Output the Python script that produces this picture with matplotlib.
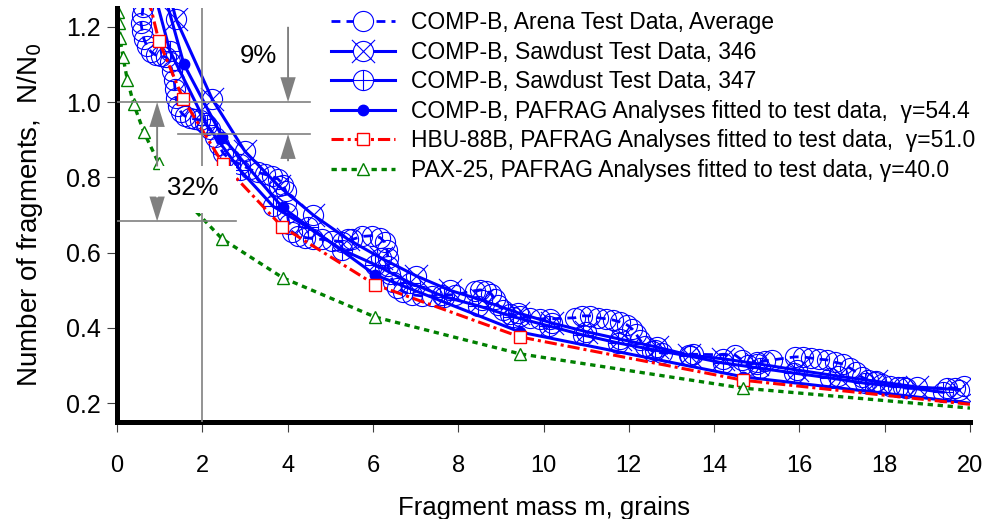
import numpy as np
import matplotlib
matplotlib.use("Agg")
import matplotlib.pyplot as plt
from matplotlib.path import Path
from matplotlib.patches import Rectangle
from matplotlib.lines import Line2D

plt.rcParams["font.family"] = ["Liberation Sans", "DejaVu Sans"]

# COMP-B arena test data (average)
arena_x = [0.61, 0.59, 0.56, 0.59, 0.63, 0.70, 0.80, 0.91, 1.03, 1.15, 1.24, 1.29,
           1.34, 1.36, 1.38, 1.43, 1.50, 1.59, 1.71, 1.83, 1.95, 2.06, 2.18, 2.30,
           2.39, 2.49, 2.65, 2.88, 3.12, 3.31, 3.47, 3.63, 3.78, 3.89, 3.96, 3.96,
           3.99, 4.03, 4.10, 4.24, 4.41, 4.60, 4.81, 5.04, 5.28, 5.51, 5.74, 5.98,
           6.17, 6.28, 6.33, 6.35, 6.35, 6.40, 6.47, 6.56, 6.71, 6.92, 7.15, 7.39,
           7.62, 7.92, 8.39, 8.51, 8.65, 8.77, 8.86, 8.93, 9.05, 9.21, 9.45, 9.68,
           9.92, 10.15, 10.74, 10.90, 11.09, 11.28, 11.47, 11.63, 11.79, 11.96, 12.08,
           12.17, 12.26, 12.38, 12.54, 12.78, 13.50, 14.49, 14.65, 14.80, 15.00,
           15.19, 15.36, 15.90, 16.08, 16.27, 16.46, 16.65, 16.83, 17.02, 17.19,
           17.33, 17.47, 17.61, 17.77, 17.94, 18.12, 18.31, 18.50, 19.46, 19.65, 19.86]
arena_y = [1.253, 1.232, 1.211, 1.189, 1.168, 1.149, 1.133, 1.125, 1.123, 1.120, 1.107, 1.083,
           1.059, 1.035, 1.011, 0.989, 0.973, 0.963, 0.957, 0.955, 0.952, 0.944, 0.928, 0.907,
           0.885, 0.864, 0.848, 0.835, 0.821, 0.813, 0.808, 0.803, 0.795, 0.781, 0.763, 0.733,
           0.704, 0.677, 0.656, 0.645, 0.640, 0.637, 0.635, 0.632, 0.629, 0.635, 0.643, 0.645,
           0.640, 0.627, 0.608, 0.587, 0.565, 0.544, 0.523, 0.507, 0.496, 0.488, 0.485, 0.485,
           0.488, 0.488, 0.499, 0.501, 0.499, 0.491, 0.477, 0.461, 0.448, 0.437, 0.432, 0.427,
           0.424, 0.424, 0.427, 0.432, 0.432, 0.427, 0.424, 0.421, 0.416, 0.408, 0.397,
           0.384, 0.368, 0.352, 0.339, 0.333, 0.330, 0.328, 0.315, 0.301, 0.309,
           0.312, 0.315, 0.323, 0.323, 0.320, 0.317, 0.315, 0.309, 0.304, 0.293,
           0.283, 0.269, 0.261, 0.256, 0.251, 0.245, 0.243, 0.240, 0.240, 0.240, 0.245]

# COMP-B sawdust test 346 (first point is above the plotted range)
saw346_x = [1.20, 1.38, 2.23, 3.00, 3.80, 4.60, 5.42, 6.20, 7.00, 7.80, 8.55, 9.40, 10.20,
            11.00, 11.80, 12.66, 13.40, 14.20, 15.00, 15.95, 16.90, 17.80, 18.75, 19.75]
saw346_y = [1.300, 1.221, 1.008, 0.869, 0.776, 0.700, 0.635, 0.585, 0.539, 0.500, 0.474, 0.440,
            0.413, 0.390, 0.370, 0.349, 0.328, 0.318, 0.305, 0.288, 0.272, 0.258, 0.243, 0.236]

# COMP-B sawdust test 347
saw347_x = [0.90, 1.24, 2.10, 2.88, 3.66, 4.48, 5.27, 6.05, 6.87, 7.67, 8.46, 9.28, 10.13,
            10.93, 11.75, 12.61, 13.43, 14.20, 15.08, 15.87, 16.72, 17.54, 18.43, 19.37]
saw347_y = [1.280, 1.136, 0.940, 0.820, 0.723, 0.667, 0.608, 0.568, 0.520, 0.483, 0.459, 0.430,
            0.405, 0.381, 0.360, 0.341, 0.325, 0.307, 0.293, 0.280, 0.267, 0.253, 0.243, 0.229]

# PAFRAG fits (model mass bins)
fit_x = [0.98, 1.57, 2.47, 3.88, 6.05, 9.45, 14.68, 20.0]
compb_fit_y = [1.340, 1.100, 0.907, 0.720, 0.541, 0.389, 0.270, 0.200]
hbu_x = [0.62, 0.98, 1.55, 2.49, 3.87, 6.05, 9.45, 14.68, 20.0]
hbu_fit_y = [1.330, 1.163, 1.008, 0.835, 0.669, 0.515, 0.376, 0.261, 0.197]
pax_x = [0.02, 0.04, 0.07, 0.14, 0.24, 0.39, 0.63, 0.98, 1.55, 2.46, 3.89, 6.05, 9.45,
         14.68, 20.0]
pax_fit_y = [1.240, 1.210, 1.170, 1.120, 1.060, 0.995, 0.920, 0.837, 0.745, 0.637, 0.533,
             0.429, 0.331, 0.240, 0.187]

labels = [
    "COMP-B, Arena Test Data, Average",
    "COMP-B, Sawdust Test Data, 346",
    "COMP-B, Sawdust Test Data, 347",
    "COMP-B, PAFRAG Analyses fitted to test data,  \u03b3=54.4",
    "HBU-88B, PAFRAG Analyses fitted to test data,  \u03b3=51.0",
    "PAX-25, PAFRAG Analyses fitted to test data, \u03b3=40.0",
]

# reference levels for the annotations
ref_mass = 2.0
guide_y = [1.0, 0.915, 0.683]
guide_x0 = [0.0, 1.43, 0.0]
guide_x1 = [4.53, 4.53, 2.8]


def ring_marker(kind):
    circ = Path.unit_circle()
    if kind == "x":
        a = 1.15
        segs = Path([(-a, -a), (a, a), (-a, a), (a, -a)],
                    [Path.MOVETO, Path.LINETO, Path.MOVETO, Path.LINETO])
    else:
        segs = Path([(-1, 0), (1, 0), (0, -1), (0, 1)],
                    [Path.MOVETO, Path.LINETO, Path.MOVETO, Path.LINETO])
    return Path.make_compound_path(circ, segs)


def main():
    blue, red, green, gray = "#0000ff", "#ff0000", "#008000", "#808080"
    fig = plt.figure(figsize=(10.08, 5.19), dpi=100)
    ax = fig.add_axes([0.1161, 0.1869, 0.8462, 0.7977])

    styles = [
        dict(color=blue, lw=2.0, ls=(0, (3.2, 2.2)), marker="o", ms=14.5,
             mec=blue, mew=0.8),
        dict(color=blue, lw=2.2, marker=ring_marker("x"), ms=16.7, mec=blue, mew=0.8),
        dict(color=blue, lw=2.2, marker=ring_marker("+"), ms=14.5, mec=blue, mew=0.8),
        dict(color=blue, lw=2.2, marker="o", ms=7.5, mfc=blue, mec=blue),
        dict(color=red, lw=2.2, ls=(0, (4, 1.3, 1, 1.3)), marker="s", ms=8,
             mfc="white", mec=red, mew=1.0),
        dict(color=green, lw=2.4, ls=(0, (1.6, 1.4)), marker="^", ms=8,
             mfc="white", mec=green, mew=1.0),
    ]

    ax.plot(arena_x, arena_y, mfc="none", **styles[0])
    ax.plot(saw346_x, saw346_y, mfc="none", markevery=slice(1, None), **styles[1])
    ax.plot(saw347_x, saw347_y, mfc="none", markevery=slice(1, None), **styles[2])
    ax.plot(fit_x, compb_fit_y, markevery=slice(0, -1), **styles[3])
    ax.plot(hbu_x, hbu_fit_y, markevery=slice(0, -1), **styles[4])
    ax.plot(pax_x, pax_fit_y, markevery=slice(0, -1), **styles[5])

    # guide lines
    ax.plot([ref_mass, ref_mass], [0.15, 1.25], color=gray, lw=1.2, zorder=4)
    for y, a, b in zip(guide_y, guide_x0, guide_x1):
        ax.plot([a, b], [y, y], color=gray, lw=1.2, zorder=4)

    # white box behind the 32% label
    ax.add_patch(Rectangle((1.0, 0.705), 1.8, 0.124, facecolor="white",
                           edgecolor="none", zorder=5))
    ax.text(1.78, 0.773, "32%", fontsize=18.5, ha="center", va="center", zorder=6)
    ax.text(3.31, 1.123, "9%", fontsize=18.5, ha="center", va="center", zorder=6)

    arrow_kw = dict(width=0.045, head_width=0.36, head_length=0.066,
                    length_includes_head=True, color=gray, lw=0, zorder=7)
    ax.arrow(4.01, 1.2, 0, 1.0 - 1.2, **arrow_kw)
    ax.arrow(4.01, 0.843, 0, 0.915 - 0.843, **arrow_kw)
    ax.arrow(0.94, 0.829, 0, 1.0 - 0.829, **arrow_kw)
    ax.arrow(0.94, 0.747, 0, 0.683 - 0.747, **arrow_kw)

    ax.set_xlim(0, 20)
    ax.set_ylim(0.15, 1.25)
    ax.set_xticks(np.arange(0, 21, 2))
    ax.set_yticks(np.arange(0.2, 1.21, 0.2))
    ax.set_yticklabels([f"{v:.1f}" for v in np.arange(0.2, 1.21, 0.2)])
    ax.tick_params(axis="x", direction="out", length=7.5, width=0.8, color="#404040",
                   labelsize=17, pad=16)
    ax.tick_params(axis="y", direction="out", length=7.5, width=0.8, color="#404040",
                   labelsize=18, pad=4)
    for side in ("top", "right"):
        ax.spines[side].set_visible(False)
    for side in ("left", "bottom"):
        ax.spines[side].set_linewidth(3.6)
        ax.spines[side].set_color("black")

    ax.set_xlabel("Fragment mass m, grains", fontsize=18.5, labelpad=14)
    ax.set_ylabel("Number of fragments,  N/N$_0$", fontsize=20, labelpad=15)

    # legend proxies: open markers drawn white-filled, as in the original key
    handles = []
    for st in styles:
        kw = dict(st)
        kw.setdefault("mfc", "white")
        handles.append(Line2D([], [], **kw))
    ax.legend(handles, labels, loc="upper left",
              bbox_to_anchor=(0.251, 0.993), frameon=False, fontsize=16.5,
              handlelength=2.8, handletextpad=0.7, labelspacing=0.29,
              borderpad=0, borderaxespad=0)

    fig.savefig("out.png", dpi=100)


if __name__ == "__main__":
    main()
